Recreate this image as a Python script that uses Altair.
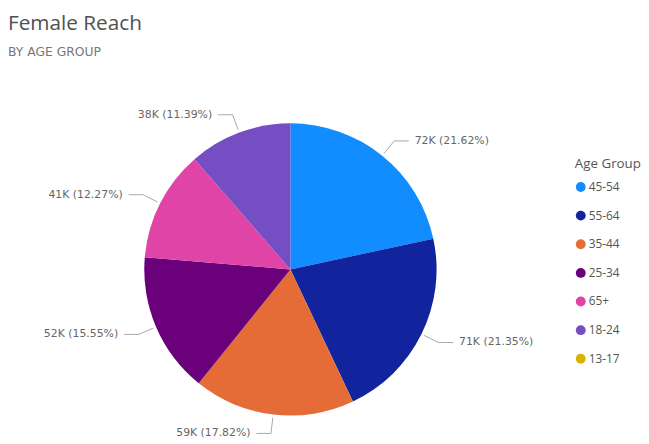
import altair as alt
import pandas as pd

# ---- data ----
categories = ["45-54", "55-64", "35-44", "25-34", "65+", "18-24", "13-17"]
reach = [71995, 71096, 59341, 51782, 40859, 37929, 0]
palette = ["#118DFF", "#12239E", "#E66C37", "#6B007B", "#E044A7", "#744EC2", "#D9B300"]

df = pd.DataFrame({"age": categories, "reach": reach, "idx": list(range(len(categories)))})

# ---- layout (radius units; pie radius = 1) ----
R = 148
W, H = 560, 365
CX, CY = 286, 206          # pie centre inside the plot area (px)
xs = alt.Scale(domain=[-CX / R, (W - CX) / R], nice=False, zero=False)
ys = alt.Scale(domain=[-(H - CY) / R, CY / R], nice=False, zero=False)
FONT = "Open Sans"
LFONT = "DejaVu Sans"

pie = alt.Chart(df).mark_arc(radius=R).encode(
    theta=alt.Theta("reach:Q", stack=True),
    order=alt.Order("idx:Q"),
    color=alt.Color(
        "age:N",
        sort=categories,
        scale=alt.Scale(domain=categories, range=palette),
        legend=alt.Legend(
            title="Age Group", orient="none", legendX=574, legendY=92,
            symbolType="circle", symbolSize=100, symbolStrokeWidth=0,
            titleFont=FONT, titleFontSize=13.5, titleFontWeight="normal", titleColor="#555555",
            titlePadding=11, labelFont=FONT, labelFontSize=12, labelColor="#555555",
            labelOffset=2, rowPadding=17,
        ),
    ),
    x=alt.datum(0, type="quantitative", scale=xs, axis=None),
    y=alt.datum(0, type="quantitative", scale=ys, axis=None),
)

base = (
    alt.Chart(df)
    .transform_joinaggregate(total="sum(reach)")
    .transform_window(cum="sum(reach)", sort=[alt.SortField("idx")], frame=[None, 0])
    .transform_filter("datum.reach > 0")
    .transform_calculate(
        mid="2*PI*(datum.cum - datum.reach/2)/datum.total",
    )
    .transform_calculate(
        sx="sin(datum.mid)", sy="cos(datum.mid)",
        side="sin(datum.mid) >= 0 ? 1 : -1",
        label="format(datum.reach/1000, '.0f') + 'K (' + format(100*datum.reach/datum.total, '.2f') + '%)'",
    )
    .transform_calculate(
        x0="1.02*datum.sx", y0="1.02*datum.sy",
        x1="1.13*datum.sx", y1="1.13*datum.sy",
    )
    .transform_calculate(x2="datum.x1 + datum.side*0.1")
    .transform_calculate(xt="datum.x2 + datum.side*0.04")
)

line_col = "#A8A8A8"
seg1 = base.mark_rule(color=line_col, strokeWidth=1).encode(
    x=alt.X("x0:Q", scale=xs, axis=None), y=alt.Y("y0:Q", scale=ys, axis=None),
    x2="x1:Q", y2="y1:Q",
)
seg2 = base.mark_rule(color=line_col, strokeWidth=1).encode(
    x=alt.X("x1:Q", scale=xs, axis=None), y=alt.Y("y1:Q", scale=ys, axis=None),
    x2="x2:Q", y2="y1:Q",
)
txt_r = base.transform_filter("datum.side > 0").mark_text(
    align="left", baseline="middle", font=LFONT, fontSize=11, color="#666666"
).encode(x=alt.X("xt:Q", scale=xs, axis=None), y=alt.Y("y1:Q", scale=ys, axis=None), text="label:N")
txt_l = base.transform_filter("datum.side < 0").mark_text(
    align="right", baseline="middle", font=LFONT, fontSize=11, color="#666666"
).encode(x=alt.X("xt:Q", scale=xs, axis=None), y=alt.Y("y1:Q", scale=ys, axis=None), text="label:N")

chart = (
    alt.layer(pie, seg1, seg2, txt_r, txt_l)
    .properties(
        width=W, height=H,
        padding={"left": 0, "top": 2, "right": 0, "bottom": 0},
        title=alt.TitleParams(
            text="Female Reach", subtitle="BY AGE GROUP", anchor="start",
            font=FONT, fontSize=21, fontWeight="normal", color="#505050",
            subtitleFont=LFONT, subtitleFontSize=12.5, subtitleColor="#777777",
            subtitlePadding=12, offset=8,
        ),
    )
    .configure_view(stroke=None)
)

chart.save("out.html", embed_options={"renderer": "svg", "actions": False})
